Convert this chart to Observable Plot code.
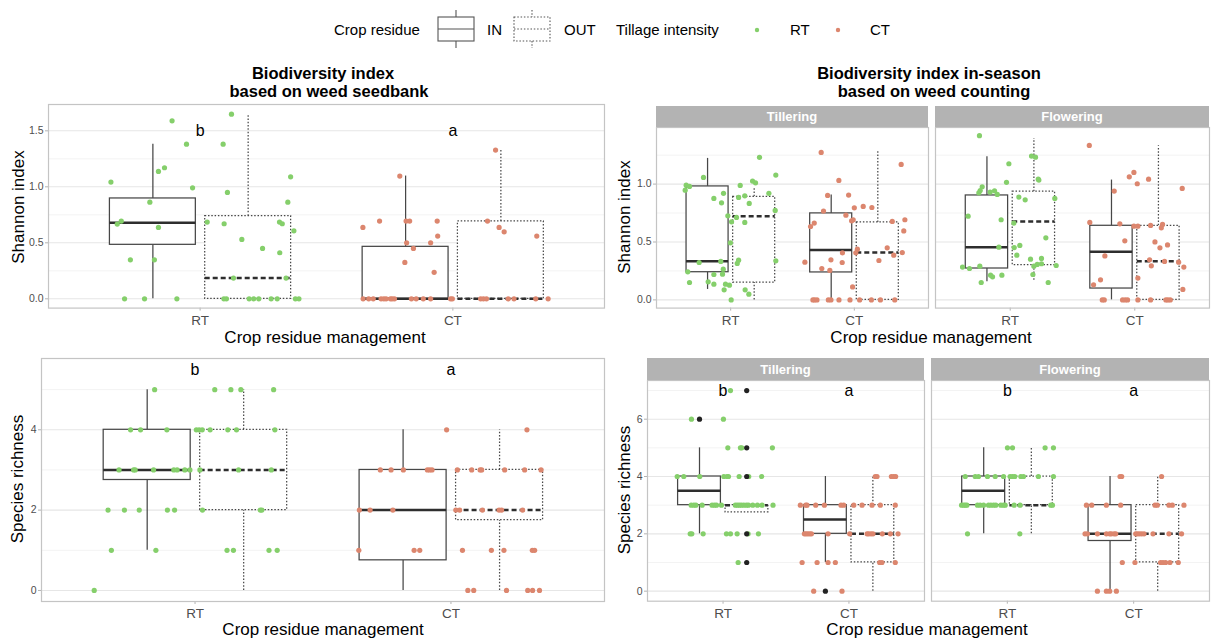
<!DOCTYPE html>
<html><head><meta charset="utf-8">
<script src="https://cdn.jsdelivr.net/npm/d3@7"></script>
<script src="https://cdn.jsdelivr.net/npm/@observablehq/plot@0.6"></script>
<style>
html,body{margin:0;padding:0;background:#fff;}
#wrap{position:relative;width:1216px;height:641px;overflow:hidden;font-family:"Liberation Sans",Arial,Helvetica,sans-serif;background:#fff;}
.t{position:absolute;white-space:nowrap;color:#000;line-height:1;}
.strip{position:absolute;background:#b3b3b3;color:#fff;font-weight:bold;font-size:13px;display:flex;align-items:center;justify-content:center;}
.pl{position:absolute;}
svg.pl g[aria-label*="x-axis tick label"] text{font-size:13.5px;}
svg.pl g[aria-label*="y-axis tick label"] text{font-size:10.5px;}
</style></head><body><div id="wrap"></div><script>
// ---------- data ----------
const xLabels = ["RT", "CT"];
const residueLevels = ["IN", "OUT"];
const stages = ["Tillering", "Flowering"];
const GREEN = "#85cf6b", ORANGE = "#dc866e";

// box statistics: [tillage, residue, lower whisker, q1, median, q3, upper whisker]
const seedShannonBoxes = [
  ["RT","IN",0,0.482,0.679,0.896,1.381],
  ["RT","OUT",0,0,0.185,0.738,1.649],
  ["CT","IN",0,0,0,0.464,1.096],
  ["CT","OUT",0,0,0,0.691,1.328]];
const seedRichBoxes = [
  ["RT","IN",1,2.75,3,4,5],
  ["RT","OUT",0,2,3,4,5],
  ["CT","IN",0,0.75,2,3,4],
  ["CT","OUT",0,1.75,2,3,4]];
const tillShannonBoxes = [
  ["RT","IN",0.09,0.239,0.334,0.98,1.222],
  ["RT","OUT",0,0.15,0.723,0.89,0.971],
  ["CT","IN",0,0.237,0.43,0.747,0.905],
  ["CT","OUT",0,0,0.41,0.669,1.279]];
const flowShannonBoxes = [
  ["RT","IN",0.156,0.271,0.455,0.902,1.236],
  ["RT","OUT",0.17,0.3,0.678,0.934,1.395],
  ["CT","IN",0,0.098,0.415,0.64,1.035],
  ["CT","OUT",0,0,0.334,0.64,1.331]];
const tillRichBoxes = [
  ["RT","IN",2,3,3.5,4,5],
  ["RT","OUT",2.75,2.75,3,3,3],
  ["CT","IN",1,2,2.5,3,4],
  ["CT","OUT",0,1,2,3,4]];
const flowRichBoxes = [
  ["RT","IN",2,3,3.5,4,5],
  ["RT","OUT",2,3,3,4,5],
  ["CT","IN",0,1.75,2,3,4],
  ["CT","OUT",0,1,2,3,4]];

// jittered observations: [x position on the category axis, value]
const seedShannonRT = [[0.889,1.589],[1.124,1.649],[0.946,1.381],[1.091,1.381],[0.835,1.137],[0.859,1.17],[0.647,1.042],[0.970,0.991],[1.108,0.95],[1.358,1.089],[1.347,0.863],[0.801,0.863],[0.672,0.667],[0.688,0.694],[0.835,0.637],[1.028,0.685],[1.095,0.67],[1.314,0.685],[1.325,0.67],[1.371,0.607],[1.165,0.53],[1.247,0.45],[1.315,0.411],[0.724,0.348],[0.819,0.348],[1.132,0.185],[1.34,0.185],[0.701,0],[0.78,0],[0.908,0],[1.094,0],[1.104,0],[1.194,0],[1.212,0],[1.232,0],[1.281,0],[1.305,0],[1.377,0],[1.391,0]];
const seedShannonCT = [[1.79,1.096],[2.169,1.328],[1.644,0.637],[1.71,0.694],[1.815,0.694],[1.829,0.694],[1.938,0.694],[1.94,0.56],[1.912,0.5],[1.817,0.5],[1.844,0.45],[1.81,0.325],[1.926,0.236],[2.137,0.694],[2.183,0.637],[2.203,0.598],[2.332,0.56],[1.645,0],[1.667,0],[1.685,0],[1.716,0],[1.727,0],[1.736,0],[1.753,0],[1.76,0],[1.769,0],[1.836,0],[1.855,0],[1.883,0],[1.912,0],[1.991,0],[1.998,0],[2.11,0],[2.121,0],[2.133,0],[2.219,0],[2.242,0],[2.328,0],[2.377,0]];
const tillShannonRT = [[1.233,1.231],[1.365,1.078],[0.78,1.058],[0.64,0.991],[0.667,0.98],[0.632,0.948],[1.077,0.989],[1.177,1.026],[1.201,1.011],[0.942,0.92],[0.864,0.876],[0.926,0.838],[1.114,0.899],[1.064,0.885],[1.15,0.833],[1.309,0.92],[1.36,0.773],[0.977,0.726],[1.047,0.712],[1.007,0.674],[1.114,0.669],[0.998,0.493],[1.064,0.343],[1.053,0.315],[1.365,0.337],[0.745,0.323],[0.92,0.332],[0.653,0.242],[0.94,0.265],[0.934,0.222],[0.864,0.219],[0.667,0.15],[0.818,0.156],[0.864,0.136],[0.958,0.136],[0.99,0.127],[0.947,0.087],[1.117,0.087],[1.147,0.049],[1.004,0]];
const tillShannonCT = [[1.732,1.274],[2.379,1.17],[1.875,1.032],[1.784,0.902],[1.954,0.905],[2.0,0.795],[2.072,0.807],[2.142,0.798],[1.751,0.767],[1.932,0.732],[1.978,0.683],[1.991,0.692],[2.409,0.692],[2.4,0.596],[2.307,0.678],[1.676,0.663],[1.646,0.634],[1.904,0.406],[2.025,0.438],[2.012,0.406],[2.266,0.45],[2.388,0.409],[2.319,0.386],[1.6,0.326],[1.811,0.346],[1.902,0.323],[2.199,0.34],[1.737,0.271],[1.802,0.254],[1.986,0.112],[1.665,0],[1.679,0],[1.698,0],[1.79,0],[1.811,0],[1.876,0],[1.965,0],[2.043,0],[2.138,0],[2.211,0],[2.327,0]];
const flowShannonRT = [[0.753,1.418],[1.171,1.242],[1.203,1.233],[0.989,1.176],[1.225,1.043],[1.23,1.035],[0.97,1.015],[0.775,0.977],[0.759,0.945],[0.748,0.925],[0.839,0.931],[0.874,0.942],[0.896,0.911],[1.069,0.888],[1.12,0.864],[1.358,0.876],[0.662,0.723],[0.927,0.692],[1.029,0.663],[0.909,0.455],[1.032,0.452],[1.077,0.47],[1.286,0.536],[1.053,0.386],[1.163,0.352],[1.251,0.358],[1.217,0.306],[1.251,0.312],[1.19,0.291],[0.617,0.283],[0.673,0.271],[0.756,0.291],[1.369,0.297],[0.842,0.213],[0.858,0.199],[0.933,0.213],[1.182,0.219],[0.767,0.15],[1.305,0.15]];
const flowShannonCT = [[1.635,1.334],[2.381,0.963],[1.835,0.94],[1.993,1.101],[1.956,1.063],[2.02,1.003],[2.111,1.043],[1.639,0.669],[1.88,0.657],[1.993,0.637],[2.025,0.637],[2.127,0.643],[2.213,0.622],[2.223,0.652],[1.92,0.51],[2.162,0.501],[2.263,0.475],[2.202,0.45],[1.76,0.38],[2.119,0.346],[2.239,0.332],[2.133,0.294],[2.352,0.326],[2.394,0.283],[2.025,0.188],[1.725,0.173],[1.669,0.13],[2.386,0.09],[1.739,0],[1.755,0],[1.902,0],[1.923,0],[1.942,0],[2.025,0],[2.127,0],[2.25,0],[2.266,0],[2.285,0]];

// species richness observations grouped by value: [value, [x positions]]
const seedRichRT = [[5,[0.842,1.077,1.14,1.179,1.307]],[4,[0.748,0.787,0.89,1.005,1.016,1.028,1.059,1.128,1.162,1.312]],[3,[0.703,0.76,0.766,0.838,0.917,0.93,0.96,0.98,1.019,1.17,1.298]],[2,[0.66,0.724,0.782,0.892,0.92,1.029,1.255,1.261]],[1,[0.673,0.847,1.125,1.15,1.289,1.321]],[0,[0.606]]];
const seedRichCT = [[4,[1.983,2.297]],[3,[1.724,1.766,1.814,1.908,1.917,1.926,2.025,2.081,2.114,2.12,2.21,2.288,2.352]],[2,[1.642,1.684,1.773,2.019,2.034,2.123,2.188,2.198,2.28]],[1,[1.64,1.856,1.878,2.045,2.158,2.207,2.318,2.327]],[0,[2.066,2.089,2.217,2.3,2.319,2.346]]];
const tillRichRT = [[7,[1.059]],[6,[0.749,1.003]],[5,[1.038,1.138,1.149,1.392]],[4,[0.636,0.688,0.815,1.006,1.032,1.043,1.128,1.204,1.307]],[3,[0.747,0.768,0.784,0.834,0.913,0.932,0.948,0.987,1.098,1.114,1.13,1.146,1.165,1.186,1.202,1.236,1.273,1.31,1.397]],[2,[0.739,0.752,0.842,1.027,1.059,1.112,1.199,1.281]],[1,[1.12]]];
const tillRichCT = [[4,[2.209,2.223,2.337,2.355,2.371]],[3,[1.614,1.657,1.667,1.736,1.805,1.937,1.958,2.038,2.104,2.183,2.249,2.368]],[2,[1.646,1.659,1.673,1.688,1.702,1.834,2.006,2.144,2.157,2.175,2.191,2.265,2.329,2.39]],[1,[1.628,1.747,1.834,1.892,2.244,2.262,2.368]],[0,[1.72,1.945]]];
const tillRichOutliers = [[0.813,6],[1.188,7],[1.188,5],[1.188,4],[1.188,2],[1.188,1],[1.813,0]];
const flowRichRT = [[5,[1.001,1.041,1.299,1.365]],[4,[0.667,0.746,0.772,0.843,0.904,0.97,1.022,1.041,1.059,1.107,1.128,1.246,1.365]],[3,[0.638,0.654,0.667,0.68,0.764,0.785,0.812,0.851,0.87,0.891,0.909,0.949,0.97,0.983,1.054,1.101,1.344,1.357]],[2,[0.685,1.099]]];
const flowRichCT = [[4,[1.892,1.905,2.221]],[3,[1.626,1.668,1.784,1.897,2.169,2.187,2.279,2.306,2.398]],[2,[1.615,1.634,1.713,1.784,1.81,1.823,1.845,1.858,2.016,2.029,2.045,2.063,2.082,2.153,2.279,2.379]],[1,[1.91,2.01,2.213,2.232,2.253,2.287,2.353]],[0,[1.713,1.784,1.81,1.863]]];

// significance letters: [tillage, letter]
const seedLetters = [["RT","b"],["CT","a"]];
const richLetters = [["RT","b"],["CT","a"]];

const shannonTicks = [0, 0.5, 1.0, 1.5];
const shannonMinor = [0.25, 0.75, 1.25];
const seedRichTicks = [0, 2, 4];
const seedRichMinor = [1, 3, 5];
const inRichTicks = [0, 2, 4, 6];
const inRichMinor = [1, 3, 5, 7];

// ---------- helpers ----------
const wrap = document.getElementById("wrap");
const dodge = {IN: -0.187, OUT: 0.19};
const half = 0.17;
const rows = arr => arr.flatMap(([v, xs]) => xs.map(x => [x, v]));

function text(str, cx, cy, {size = 17, bold = false, rotate = false, color = "#000"} = {}) {
  const d = document.createElement("div");
  d.className = "t";
  d.textContent = str;
  d.style.left = cx + "px";
  d.style.top = cy + "px";
  d.style.fontSize = size + "px";
  d.style.color = color;
  if (bold) d.style.fontWeight = "bold";
  d.style.transform = "translate(-50%,-50%)" + (rotate ? " rotate(-90deg)" : "");
  wrap.appendChild(d);
}
function strip(str, x1, y1, x2, y2) {
  const d = document.createElement("div");
  d.className = "strip";
  d.textContent = str;
  Object.assign(d.style, {left: x1 + "px", top: y1 + "px", width: (x2 - x1) + "px", height: (y2 - y1) + "px"});
  wrap.appendChild(d);
}

function panel(cfg) {
  const {frame: [fx1, fy1, fx2, fy2], yDomain, yTicks, yMinor, yFormat, showY,
    boxes, ptsRT, ptsCT, outliers = [], letters = [], letterY} = cfg;
  const ml = 40, mr = 6, mt = 6, mb = 26;
  const W = fx2 - fx1 + ml + mr, H = fy2 - fy1 + mt + mb;
  const B = boxes.map(([t, r, lo, q1, med, q3, hi]) => ({t, r, lo, q1, med, q3, hi, x: xLabels.indexOf(t) + 1 + dodge[r]}));
  const boxMarks = [];
  for (const res of residueLevels) {
    const data = B.filter(d => d.r === res);
    const dotted = res === "OUT";
    const lineOpt = {stroke: "#474747", strokeWidth: 1.25};
    if (dotted) lineOpt.strokeDasharray = "1.5,1.8";
    const medOpt = {stroke: "#2e2e2e", strokeWidth: 2.5};
    if (dotted) medOpt.strokeDasharray = "5,3";
    boxMarks.push(
      Plot.ruleX(data, {x: "x", y1: "q3", y2: "hi", ...lineOpt}),
      Plot.ruleX(data, {x: "x", y1: "lo", y2: "q1", ...lineOpt}),
      Plot.rect(data, {x1: d => d.x - half, x2: d => d.x + half, y1: "q1", y2: "q3", fill: "white", ...lineOpt}),
      Plot.ruleY(data, {y: "med", x1: d => d.x - half, x2: d => d.x + half, ...medOpt})
    );
  }
  const marks = [
    Plot.gridY(yMinor, {stroke: "#f3f3f3", strokeOpacity: 1, strokeWidth: 1}),
    Plot.gridY(yTicks, {stroke: "#e6e6e6", strokeOpacity: 1, strokeWidth: 1.1}),
    ...boxMarks,
    Plot.dot(ptsRT, {x: d => d[0], y: d => d[1], r: 2.6, fill: GREEN}),
    Plot.dot(ptsCT, {x: d => d[0], y: d => d[1], r: 2.6, fill: ORANGE}),
    Plot.dot(outliers, {x: d => d[0], y: d => d[1], r: 2.6, fill: "#222"}),
    Plot.text(letters, {x: d => xLabels.indexOf(d[0]) + 1, y: () => letterY, text: d => d[1], fontSize: 16, fill: "#000"}),
    Plot.axisX([1, 2], {tickFormat: d => xLabels[d - 1], tickSize: 3, tickPadding: 4, fontSize: 13.5, stroke: "#b3b3b3", fill: "#4d4d4d", label: null}),
    Plot.frame({stroke: "#c4c4c4", strokeWidth: 1.2})
  ];
  if (showY) marks.push(Plot.axisY(yTicks, {tickFormat: yFormat, tickSize: 3, tickPadding: 2, fontSize: 10.5, stroke: "#b3b3b3", fill: "#4d4d4d", label: null}));
  const svg = Plot.plot({
    width: W, height: H, marginLeft: ml, marginRight: mr, marginTop: mt, marginBottom: mb,
    style: {background: "transparent", overflow: "visible", fontFamily: "'Liberation Sans', Arial, sans-serif"},
    x: {type: "linear", domain: [0.4, 2.6], axis: null},
    y: {type: "linear", domain: yDomain, axis: null},
    marks
  });
  svg.classList.add("pl");
  svg.style.left = (fx1 - ml) + "px";
  svg.style.top = (fy1 - mt) + "px";
  wrap.appendChild(svg);
}

const f1 = d3.format(".1f"), f0 = d3.format("d");

// ---------- legend ----------
const ns = "http://www.w3.org/2000/svg";
const leg = document.createElementNS(ns, "svg");
leg.setAttribute("width", 1216); leg.setAttribute("height", 56);
leg.setAttribute("class", "pl"); leg.style.left = "0px"; leg.style.top = "0px";
leg.style.fontFamily = "'Liberation Sans', Arial, sans-serif";
function el(tag, attrs, txt) {
  const e = document.createElementNS(ns, tag);
  for (const k in attrs) e.setAttribute(k, attrs[k]);
  if (txt != null) e.textContent = txt;
  leg.appendChild(e); return e;
}
el("text", {x: 334, y: 35, "font-size": 15}, "Crop residue");
[[438, null, 0, 487], [514, "1.5,1.8", 1, 564]].forEach(([x0, da, li, tx]) => {
  const st = {stroke: "#555", "stroke-width": 1.1, fill: "none"};
  if (da) st["stroke-dasharray"] = da;
  el("line", {x1: x0 + 18, x2: x0 + 18, y1: 10, y2: 17, ...st});
  el("line", {x1: x0 + 18, x2: x0 + 18, y1: 41, y2: 48, ...st});
  el("rect", {x: x0, y: 17, width: 36, height: 24, ...st, fill: "white"});
  el("line", {x1: x0, x2: x0 + 36, y1: 29, y2: 29, ...st});
  el("text", {x: tx, y: 35, "font-size": 15}, residueLevels[li]);
});
el("text", {x: 616, y: 35, "font-size": 15}, "Tillage intensity");
el("circle", {cx: 757, cy: 30, r: 2.2, fill: GREEN});
el("text", {x: 790, y: 35, "font-size": 15}, xLabels[0]);
el("circle", {cx: 838, cy: 30, r: 2.2, fill: ORANGE});
el("text", {x: 870, y: 35, "font-size": 15}, xLabels[1]);
wrap.appendChild(leg);

// ---------- panels ----------
// top-left: seedbank Shannon
panel({frame: [48, 104.4, 604, 308], yDomain: [-0.083, 1.735], yTicks: shannonTicks, yMinor: shannonMinor, yFormat: f1, showY: true,
  boxes: seedShannonBoxes, ptsRT: seedShannonRT, ptsCT: seedShannonCT, letters: seedLetters, letterY: 1.5});
text("Biodiversity index", 323, 73, {size: 16.5, bold: true});
text("based on weed seedbank", 329, 91, {size: 16.5, bold: true});
text("Shannon index", 18, 207, {size: 17, rotate: true});
text("Crop residue management", 325, 337, {size: 17});

// top-right: in-season Shannon
panel({frame: [656, 127.4, 928, 308], yDomain: [-0.071, 1.489], yTicks: [0, 0.5, 1.0], yMinor: shannonMinor, yFormat: f1, showY: true,
  boxes: tillShannonBoxes, ptsRT: tillShannonRT, ptsCT: tillShannonCT});
panel({frame: [935, 127.4, 1209, 308], yDomain: [-0.071, 1.489], yTicks: [0, 0.5, 1.0], yMinor: shannonMinor, yFormat: f1, showY: false,
  boxes: flowShannonBoxes, ptsRT: flowShannonRT, ptsCT: flowShannonCT});
strip(stages[0], 656, 106, 928, 127.4);
strip(stages[1], 935, 106, 1209, 127.4);
text("Biodiversity index in-season", 929, 73, {size: 16.5, bold: true});
text("based on weed counting", 934, 91, {size: 16.5, bold: true});
text("Shannon index", 623.5, 217, {size: 17, rotate: true});
text("Crop residue management", 931, 337, {size: 17});

// bottom-left: seedbank richness
panel({frame: [41, 358, 604, 601], yDomain: [-0.275, 5.775], yTicks: seedRichTicks, yMinor: seedRichMinor, yFormat: f0, showY: true,
  boxes: seedRichBoxes, ptsRT: rows(seedRichRT), ptsCT: rows(seedRichCT), letters: richLetters, letterY: 5.5});
text("Species richness", 17, 479, {size: 17, rotate: true});
text("Crop residue management", 323, 629, {size: 17});

// bottom-right: in-season richness
panel({frame: [647, 380.3, 924, 601], yDomain: [-0.35, 7.35], yTicks: inRichTicks, yMinor: inRichMinor, yFormat: f0, showY: true,
  boxes: tillRichBoxes, ptsRT: rows(tillRichRT), ptsCT: rows(tillRichCT), outliers: tillRichOutliers, letters: richLetters, letterY: 7});
panel({frame: [931, 380.3, 1209, 601], yDomain: [-0.35, 7.35], yTicks: inRichTicks, yMinor: inRichMinor, yFormat: f0, showY: false,
  boxes: flowRichBoxes, ptsRT: rows(flowRichRT), ptsCT: rows(flowRichCT), letters: richLetters, letterY: 7});
strip(stages[0], 647, 358, 924, 380.3);
strip(stages[1], 931, 358, 1209, 380.3);
text("Species richness", 623.5, 490, {size: 17, rotate: true});
text("Crop residue management", 927, 629, {size: 17});
</script></body></html>
